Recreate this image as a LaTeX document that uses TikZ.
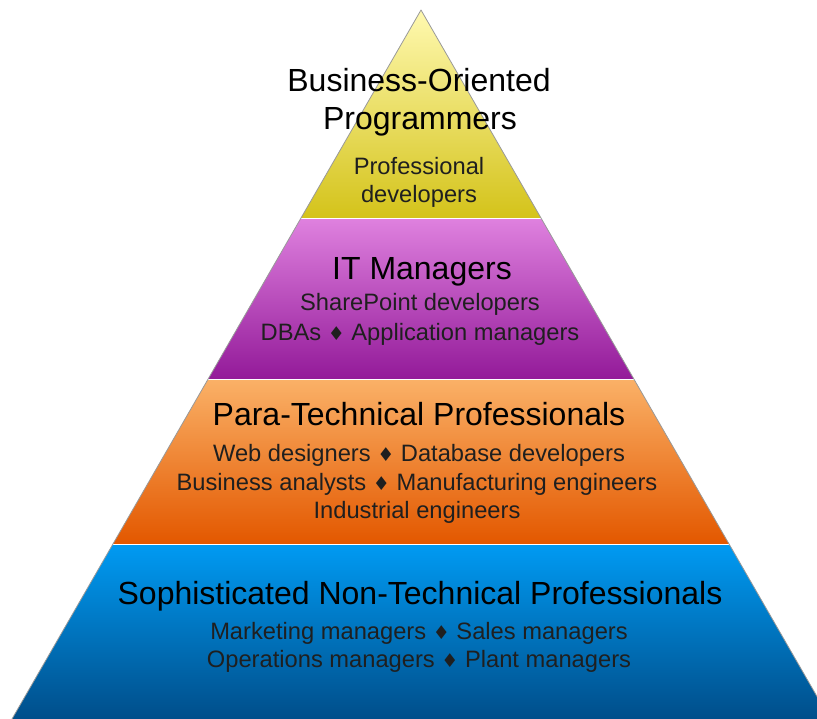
\documentclass[tikz,border=0pt]{standalone}
\usepackage{fontspec}
\setmainfont{Liberation Sans}
\newfontfamily\symfont{DejaVu Sans}
\newcommand{\dia}{{\symfont\fontsize{19}{19}\selectfont ♦}}
\definecolor{ytop}{HTML}{FFF9B0}
\definecolor{ybot}{HTML}{D4C31A}
\definecolor{mtop}{HTML}{DE80DE}
\definecolor{mbot}{HTML}{931A99}
\definecolor{otop}{HTML}{FAB066}
\definecolor{obot}{HTML}{E35800}
\definecolor{btop}{HTML}{009AF2}
\definecolor{bbot}{HTML}{004E8A}
\tikzset{
  ttl/.style={font=\fontsize{32}{34}\selectfont, inner sep=0pt, anchor=base, text=black},
  sub/.style={font=\fontsize{23.7}{26}\selectfont, inner sep=0pt, anchor=base, text=black!88},
}
\begin{document}
\begin{tikzpicture}[x=1pt,y=-1pt]
\useasboundingbox (0,0) rectangle (817,719);
\coordinate (apex) at (421,10);
\coordinate (bl) at (12,719);
\coordinate (br) at (830,719);
\begin{scope}
  \clip (apex) -- (bl) -- (br) -- cycle;
  \shade[top color=ytop, bottom color=ybot] (0,10) rectangle (817,218);
  \shade[top color=mtop, bottom color=mbot] (0,220) rectangle (817,379);
  \shade[top color=otop, bottom color=obot] (0,381) rectangle (817,543);
  \shade[top color=btop, bottom color=bbot] (0,545) rectangle (817,719);
\end{scope}
\draw[black!40, line width=0.8pt, line join=round] (bl) -- (apex) -- (br);
\node[ttl] (t1a) at (419,92) {Business-Oriented};
\node[ttl] (t1b) at (420,130) {Programmers};
\node[sub] (s1a) at (419,175) {Professional};
\node[sub] (s1b) at (419,203) {developers};
\node[ttl] (t2) at (422,280) {IT Managers};
\node[sub] (s2a) at (420,311) {SharePoint developers};
\node[sub] (s2b) at (420,341) {DBAs \dia{} Application managers};
\node[ttl] (t3) at (419,425) {Para-Technical Professionals};
\node[sub] (s3a) at (419,461) {Web designers \dia{} Database developers};
\node[sub] (s3b) at (417,490) {Business analysts \dia{} Manufacturing engineers};
\node[sub] (s3c) at (417,518) {Industrial engineers};
\node[ttl] (t4) at (420,604) {Sophisticated Non-Technical Professionals};
\node[sub] (s4a) at (419,639) {Marketing managers \dia{} Sales managers};
\node[sub] (s4b) at (419,667) {Operations managers \dia{} Plant managers};
\end{tikzpicture}
\end{document}
